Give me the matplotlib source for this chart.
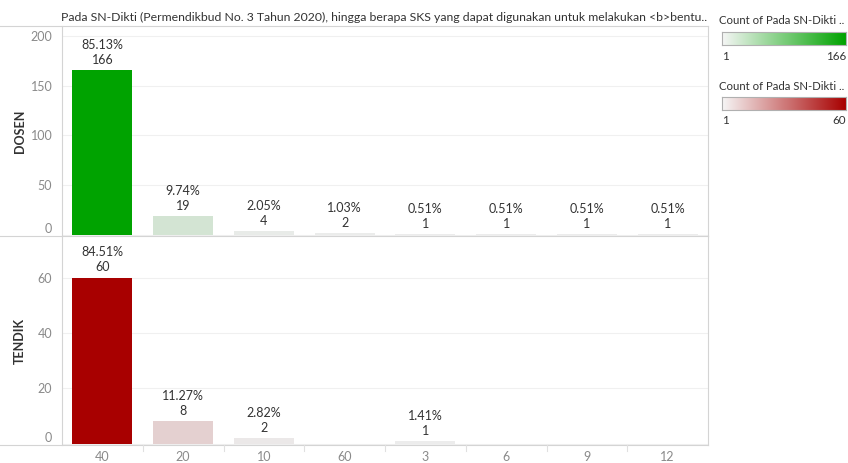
import matplotlib
matplotlib.use("Agg")
import matplotlib.pyplot as plt
import numpy as np
from matplotlib.colors import LinearSegmentedColormap, Normalize
from matplotlib.lines import Line2D

plt.rcParams['font.family'] = ['Lato', 'DejaVu Sans']

categories = ['40', '20', '10', '60', '3', '6', '9', '12']
dosen = [166, 19, 4, 2, 1, 1, 1, 1]
tendik = [60, 8, 2, 0, 1, 0, 0, 0]
row_names = ['DOSEN', 'TENDIK']
title = "Pada SN-Dikti (Permendikbud No. 3 Tahun 2020), hingga berapa SKS yang dapat digunakan untuk melakukan <b>bentu.."
legend_title = "Count of Pada SN-Dikti .."

W, H = 848, 463
fig = plt.figure(figsize=(W / 100, H / 100), dpi=100)

def fx(px):
    return px / W

def fy(py):
    return 1 - py / H

green_cmap = LinearSegmentedColormap.from_list('g', ['#ececec', '#00a300'])
red_cmap = LinearSegmentedColormap.from_list('r', ['#ececec', '#a80000'])

left, right = 62, 708
panels = [
    (dosen, 26, 236, (-1, 210), [0, 50, 100, 150, 200], green_cmap),
    (tendik, 236, 445, (-0.5, 75), [0, 20, 40, 60], red_cmap),
]

tick_col = '#8a8a8a'
text_col = '#333333'
x = np.arange(len(categories))
FS = 9

for i, (vals, ytop, ybot, ylim, ticks, cmap) in enumerate(panels):
    ax = fig.add_axes([fx(left), fy(ybot), fx(right - left), (ybot - ytop) / H])
    vals = np.array(vals, dtype=float)
    total = vals.sum()
    nz = vals[vals > 0]
    norm = Normalize(vmin=nz.min(), vmax=nz.max())
    colors = [cmap(norm(v)) for v in vals]
    ax.bar(x, vals, width=0.74, color=colors, edgecolor='none', zorder=3)
    for xi, v in zip(x, vals):
        if v > 0:
            ax.annotate(f"{v / total * 100:.2f}%\n{int(v)}", (xi, v), xytext=(0, 3),
                        textcoords='offset points', ha='center', va='bottom',
                        fontsize=FS, color=text_col, linespacing=1.3)
    ax.set_xlim(-0.5, len(categories) - 0.5)
    ax.set_ylim(*ylim)
    ax.set_yticks(ticks)
    ax.set_yticklabels([str(t) for t in ticks])
    ax.tick_params(axis='y', length=0, pad=7, labelsize=FS, labelcolor=tick_col)
    ax.get_yticklabels()[0].set_va('bottom')
    ax.grid(axis='y', color='#f0f0f0', linewidth=0.8, zorder=0)
    for s in ['top', 'bottom']:
        ax.spines[s].set_visible(False)
    ax.spines['left'].set_color('#d4d4d4')
    ax.spines['right'].set_color('#d4d4d4')
    ax.spines['left'].set_linewidth(0.8)
    ax.spines['right'].set_linewidth(0.8)
    if i == 0:
        ax.set_xticks([])
    else:
        ax.set_xticks(x)
        ax.set_xticklabels(categories)
        ax.tick_params(axis='x', length=0, pad=4, labelsize=FS, labelcolor=tick_col)
    fig.text(fx(20), fy((ytop + ybot) / 2), row_names[i], rotation=90, ha='center',
             va='center', fontsize=FS, fontweight='bold', color=text_col)

# horizontal separators
for py in [26, 236, 445]:
    fig.add_artist(Line2D([0, fx(right)], [fy(py), fy(py)], color='#d4d4d4', linewidth=0.8))
# column boundary ticks at bottom
for k in range(1, len(categories)):
    px = left + k * (right - left) / len(categories)
    fig.add_artist(Line2D([fx(px), fx(px)], [fy(445), fy(451)], color='#e0e0e0', linewidth=0.8))

fig.text(fx(384), fy(17), title, ha='center', va='center', fontsize=8.8, color=text_col)

# legends
for (cmap, vmax_v, ty, by) in [(green_cmap, max(dosen), 21, 32), (red_cmap, max(tendik), 86, 97)]:
    fig.text(fx(719), fy(ty), legend_title, ha='left', va='center', fontsize=8.2, color=text_col)
    lax = fig.add_axes([fx(722), fy(by + 13), fx(124), 13 / H])
    grad = np.linspace(0, 1, 256).reshape(1, -1)
    lax.imshow(grad, aspect='auto', cmap=LinearSegmentedColormap.from_list('l', ['#f6f6f6', cmap(1.0)]))
    lax.set_xticks([])
    lax.set_yticks([])
    for s in lax.spines.values():
        s.set_color('#b0b0b0')
        s.set_linewidth(0.8)
    fig.text(fx(722), fy(by + 24), '1', ha='left', va='center', fontsize=8.4, color=text_col)
    fig.text(fx(846), fy(by + 24), str(vmax_v), ha='right', va='center', fontsize=8.4, color=text_col)

fig.savefig('out.png', dpi=100, facecolor='white')
